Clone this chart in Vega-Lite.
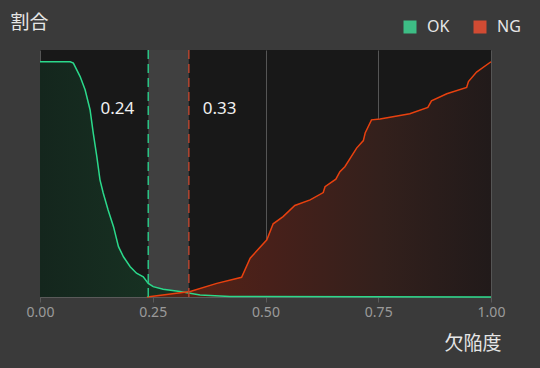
{
  "$schema": "https://vega.github.io/schema/vega-lite/v6.json",
  "width": 451,
  "height": 247,
  "autosize": {"type": "none"},
  "padding": {"left": 40, "top": 50, "right": 49, "bottom": 71},
  "background": "#3a3a3a",
  "config": {
    "view": {"fill": "#181818", "stroke": null},
    "font": "Noto Sans CJK JP",
    "axis": {"zindex": 1}
  },
  "datasets": {
    "ok": [
      {"x": 0.0, "y": 1.0}, {"x": 0.067, "y": 1.0}, {"x": 0.074, "y": 0.994},
      {"x": 0.089, "y": 0.937}, {"x": 0.1, "y": 0.881}, {"x": 0.111, "y": 0.796},
      {"x": 0.118, "y": 0.698}, {"x": 0.126, "y": 0.597}, {"x": 0.133, "y": 0.498},
      {"x": 0.14, "y": 0.443}, {"x": 0.151, "y": 0.37}, {"x": 0.163, "y": 0.299},
      {"x": 0.174, "y": 0.214}, {"x": 0.185, "y": 0.171}, {"x": 0.2, "y": 0.129},
      {"x": 0.214, "y": 0.101}, {"x": 0.229, "y": 0.086}, {"x": 0.24, "y": 0.058},
      {"x": 0.251, "y": 0.044}, {"x": 0.273, "y": 0.033}, {"x": 0.31, "y": 0.023},
      {"x": 0.355, "y": 0.009}, {"x": 0.421, "y": 0.002}, {"x": 1.0, "y": 0.0}
    ],
    "ng": [
      {"x": 0.237, "y": 0.0}, {"x": 0.333, "y": 0.023}, {"x": 0.392, "y": 0.058},
      {"x": 0.447, "y": 0.084}, {"x": 0.466, "y": 0.165}, {"x": 0.503, "y": 0.243},
      {"x": 0.517, "y": 0.311}, {"x": 0.539, "y": 0.342}, {"x": 0.565, "y": 0.389},
      {"x": 0.599, "y": 0.413}, {"x": 0.628, "y": 0.444}, {"x": 0.632, "y": 0.469},
      {"x": 0.656, "y": 0.501}, {"x": 0.665, "y": 0.533}, {"x": 0.676, "y": 0.554},
      {"x": 0.702, "y": 0.633}, {"x": 0.717, "y": 0.665}, {"x": 0.721, "y": 0.697},
      {"x": 0.735, "y": 0.753}, {"x": 0.754, "y": 0.757}, {"x": 0.82, "y": 0.779},
      {"x": 0.86, "y": 0.806}, {"x": 0.868, "y": 0.834}, {"x": 0.902, "y": 0.864},
      {"x": 0.946, "y": 0.891}, {"x": 0.95, "y": 0.916}, {"x": 0.968, "y": 0.956},
      {"x": 1.0, "y": 1.0}
    ],
    "band": [{"lo": 0.24, "hi": 0.33}],
    "legend": [{"series": "OK"}, {"series": "NG"}]
  },
  "encoding": {
    "x": {"type": "quantitative", "scale": {"domain": [0, 1], "nice": false},
      "axis": {
        "title": "欠陥度", "values": [0, 0.25, 0.5, 0.75, 1], "format": ".2f",
        "grid": true, "gridColor": "#555555", "gridWidth": 1,
        "domainColor": "#5a5a5a", "tickColor": "#5a5a5a", "tickSize": 5,
        "labelColor": "#9a9a9a", "labelFontSize": 14, "labelFont": "Noto Sans",
        "labelPadding": 3, "labelFlush": false, "labelBound": false,
        "titleColor": "#e6e6e6", "titleFontSize": 19, "titleFontWeight": "normal",
        "titleAnchor": "end", "titleAlign": "right", "titleX": 461, "titleY": 37,
        "titleBaseline": "top"
      }},
    "y": {"type": "quantitative", "scale": {"domain": [0, 1.05], "nice": false},
      "axis": {
        "title": "割合", "labels": false, "ticks": false, "grid": false, "domain": false,
        "titleAngle": 0, "titleX": -30, "titleY": -28, "titleAlign": "left",
        "titleBaseline": "middle", "titleColor": "#e6e6e6", "titleFontSize": 19,
        "titleFontWeight": "normal"
      }}
  },
  "layer": [
    {
      "data": {"name": "band"},
      "mark": {"type": "rect", "color": "#404040", "opacity": 1},
      "encoding": {
        "x": {"field": "lo"},
        "x2": {"field": "hi"},
        "y": {"value": 0},
        "y2": {"value": "height"}
      }
    },
    {
      "data": {"name": "ok"},
      "mark": {"type": "area", "interpolate": "linear",
        "fill": {"gradient": "linear", "x1": 0, "x2": 1, "y1": 0, "y2": 0,
          "stops": [{"offset": 0, "color": "#14261d"}, {"offset": 0.25, "color": "#173122"}, {"offset": 0.5, "color": "#1a2a20"}, {"offset": 1, "color": "#181818"}]}},
      "encoding": {
        "x": {"field": "x"},
        "y": {"field": "y"}
      }
    },
    {
      "data": {"name": "ng"},
      "mark": {"type": "area", "interpolate": "linear",
        "fill": {"gradient": "linear", "x1": 0, "x2": 1, "y1": 0, "y2": 0,
          "stops": [{"offset": 0, "color": "#5a2414"}, {"offset": 0.35, "color": "#48201a"}, {"offset": 0.68, "color": "#33201c"}, {"offset": 1, "color": "#211a1a"}]}},
      "encoding": {
        "x": {"field": "x"},
        "y": {"field": "y"}
      }
    },
    {
      "data": {"name": "ok"},
      "mark": {"type": "line", "stroke": "#2bd98b", "strokeWidth": 1.5, "interpolate": "linear"},
      "encoding": {
        "x": {"field": "x"},
        "y": {"field": "y"}
      }
    },
    {
      "data": {"name": "ng"},
      "mark": {"type": "line", "stroke": "#e8410f", "strokeWidth": 1.5},
      "encoding": {
        "x": {"field": "x"},
        "y": {"field": "y"}
      }
    },
    {
      "data": {"values": [{"x": 0.24}]},
      "mark": {"type": "rule", "stroke": "#2bc385", "strokeWidth": 1.5, "strokeDash": [9, 5]},
      "encoding": {"x": {"field": "x"}}
    },
    {
      "data": {"values": [{"x": 0.33}]},
      "mark": {"type": "rule", "stroke": "#b5452f", "strokeWidth": 1.5, "strokeDash": [9, 5]},
      "encoding": {"x": {"field": "x"}}
    },
    {
      "data": {"values": [{"x": 0.24, "label": "0.24"}]},
      "mark": {"type": "text", "align": "right", "dx": -14, "baseline": "middle", "fontSize": 17, "font": "Noto Sans", "fill": "#f0f0f0"},
      "encoding": {
        "x": {"field": "x"},
        "y": {"datum": 0.8},
        "text": {"field": "label"}
      }
    },
    {
      "data": {"values": [{"x": 0.33, "label": "0.33"}]},
      "mark": {"type": "text", "align": "left", "dx": 14, "baseline": "middle", "fontSize": 17, "font": "Noto Sans", "fill": "#f0f0f0"},
      "encoding": {
        "x": {"field": "x"},
        "y": {"datum": 0.8},
        "text": {"field": "label"}
      }
    },
    {
      "data": {"name": "legend"},
      "transform": [{"filter": "false"}],
      "mark": {"type": "square", "filled": true, "opacity": 1},
      "encoding": {
        "x": {"datum": 0},
        "y": {"datum": 0},
        "color": {"field": "series", "type": "nominal",
          "scale": {"domain": ["OK", "NG"], "range": ["#3dbd85", "#d14b33"]},
          "legend": {
            "title": null, "orient": "none", "direction": "horizontal",
            "legendX": 362, "legendY": -31, "padding": 0,
            "symbolType": "square", "symbolSize": 169, "symbolStrokeWidth": 0,
            "symbolOpacity": 1,
            "labelColor": "#e6e6e6", "labelFontSize": 16, "labelFont": "Noto Sans",
            "labelOffset": 9, "columnPadding": 22
          }}
      }
    }
  ]
}
